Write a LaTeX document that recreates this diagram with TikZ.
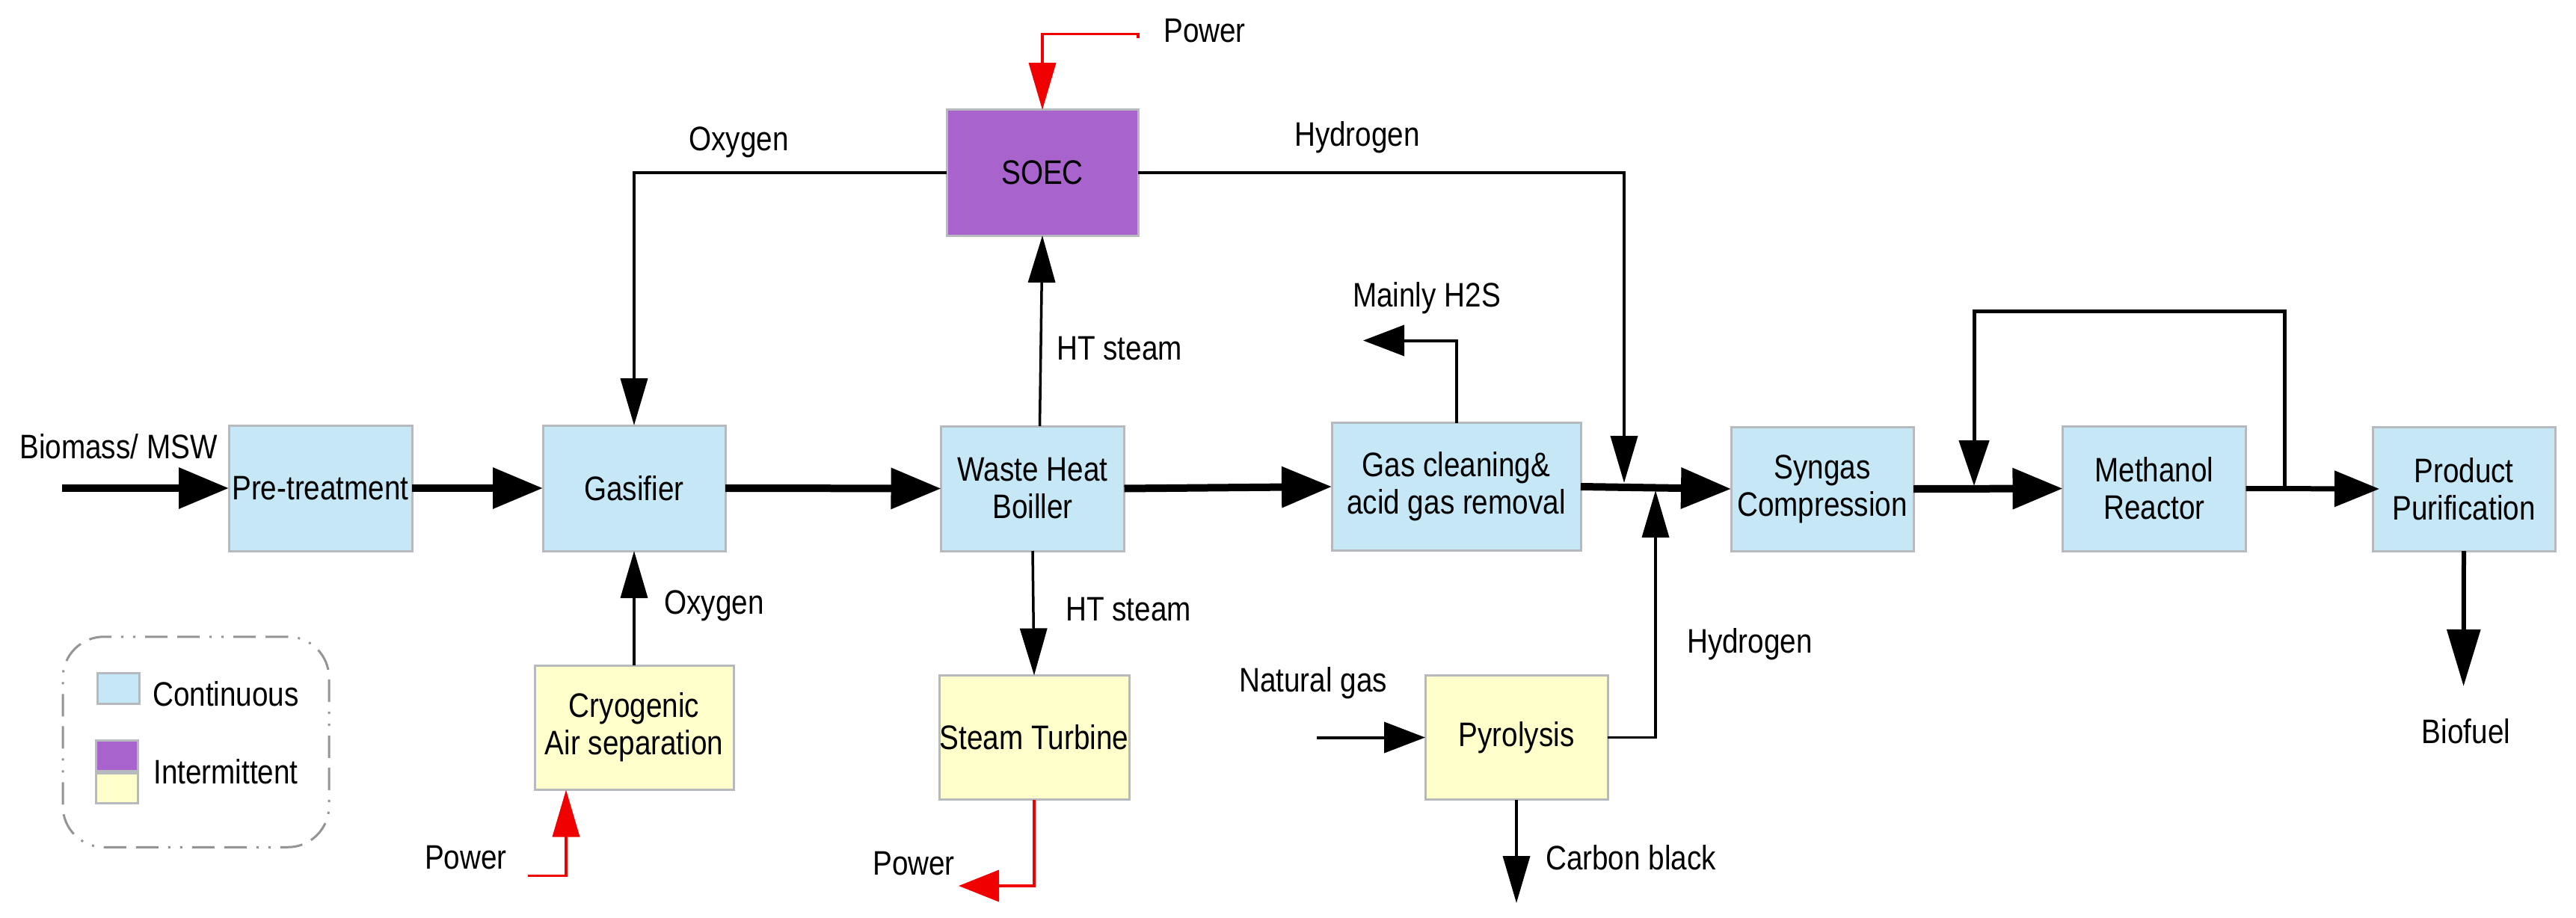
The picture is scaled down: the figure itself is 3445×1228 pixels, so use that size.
\documentclass[tikz,border=0pt]{standalone}
\usepackage{fontspec}
\setmainfont{Liberation Sans}[FakeStretch=0.85]
\usetikzlibrary{arrows.meta}
\definecolor{cblue}{HTML}{C5E7F6}
\definecolor{cpurple}{HTML}{A864CC}
\definecolor{cyellow}{HTML}{FFFFCC}
\definecolor{cedge}{HTML}{B6BABE}
\definecolor{cred}{HTML}{F00000}
\tikzset{
  x=1pt,y=-1pt,
  every node/.style={inner sep=0pt,outer sep=0pt,font=\fontsize{45.5}{50}\selectfont,text=black},
  box/.style={draw=cedge,line width=3pt,align=center},
  cont/.style={box,fill=cblue},
  pur/.style={box,fill=cpurple},
  yel/.style={box,fill=cyellow},
  lab/.style={align=center},
  thinflow/.style={line width=3.5pt,draw=black,-{Triangle[length=63pt,width=36pt]}},
  mainflow/.style={line width=10pt,draw=black,-{Triangle[length=67pt,width=53pt]}},
  midflow/.style={line width=7pt,draw=black,-{Triangle[length=60pt,width=47pt]}},
  sideflow/.style={line width=4pt,draw=black,-{Triangle[length=55pt,width=41pt]}},
  powerflow/.style={line width=3.5pt,draw=cred,-{Triangle[length=63pt,width=36pt]}},
  powerout/.style={line width=3.5pt,draw=cred,-{Triangle[length=54pt,width=42pt]}},
  legendframe/.style={draw=black!42,line width=3pt,rounded corners=55pt,
    dash pattern=on 30pt off 13pt on 30pt off 13pt on 3pt off 13pt on 3pt off 13pt}
}
\begin{document}
\begin{tikzpicture}
\useasboundingbox (0,0) rectangle (3445,1228);
% process boxes
\node[cont,minimum width=245pt,minimum height=168pt] (pre) at (428.5,653) {Pre-treatment};
\node[cont,minimum width=244pt,minimum height=168pt] (gas) at (848,653) {Gasifier};
\node[cont,minimum width=245pt,minimum height=167pt] (whb) at (1381,653.5) {Waste Heat\\Boiller};
\node[cont,minimum width=333pt,minimum height=171pt] (gc) at (1947.5,651) {Gas cleaning\&\\acid gas removal};
\node[cont,minimum width=244pt,minimum height=166pt] (syn) at (2437,654) {Syngas\\Compression};
\node[cont,minimum width=245pt,minimum height=167pt] (met) at (2881,653.5) {Methanol\\Reactor};
\node[cont,minimum width=244pt,minimum height=166pt] (pur) at (3295,654) {Product\\Purification};
\node[pur,minimum width=256pt,minimum height=168pt] (soec) at (1394,231) {SOEC};
\node[yel,minimum width=266pt,minimum height=166pt] (cryo) at (848,973) {Cryogenic\\Air separation};
\node[yel,minimum width=254pt,minimum height=166pt] (st) at (1383,986.5) {Steam Turbine};
\node[yel,minimum width=244pt,minimum height=166pt] (pyr) at (2028,986.5) {Pyrolysis};
% free ends and junctions
\coordinate (bioStart) at (83,653);
\coordinate (pTopEnd) at (1522,51);
\coordinate (pTopCorner) at (1522,45.5);
\coordinate (pCryoStart) at (705.5,1171.5);
\coordinate (pCryoIn) at (757,1056.5);
\coordinate (pOutEnd) at (1282,1185);
\coordinate (whbTop) at (1390.5,570);
\coordinate (h2sEnd) at (1823,455.5);
\coordinate (hydDown) at (2172,646);
\coordinate (hydUp) at (2214,656);
\coordinate (ngStart) at (1761,986.5);
\coordinate (carbonEnd) at (2028,1208);
\coordinate (loopStart) at (3055.5,653);
\coordinate (loopTop) at (3055.5,416);
\coordinate (loopEnd) at (2640,650);
\coordinate (fuelEnd) at (3294.6,918);
% thick main flow
\draw[mainflow] (bioStart) -- (pre.west);
\draw[mainflow] (pre.east) -- (gas.west);
\draw[mainflow] (gas.east) -- (whb.west);
\draw[mainflow] (whb.east) -- (gc.west);
\draw[mainflow] (gc.east) -- (syn.west);
\draw[mainflow] (syn.east) -- (met.west);
\draw[midflow] (met.east) -- ([xshift=9pt]pur.west);
% thin flows
\draw[thinflow,line width=4pt] (soec.west) -| (gas.north);
\draw[thinflow,line width=4pt] (soec.east) -| (hydDown);
\draw[thinflow] (cryo.north) -- (gas.south);
\draw[thinflow] (whbTop) -- (soec.south);
\draw[thinflow] (whb.south) -- (st.north);
\draw[sideflow] (gc.north) |- (h2sEnd);
\draw[thinflow] (pyr.east) -| (hydUp);
\draw[sideflow] (ngStart) -- (pyr.west);
\draw[thinflow] (pyr.south) -- (carbonEnd);
\draw[line width=5pt,draw=black,-{Triangle[length=61pt,width=40pt]},line join=miter] (loopStart) -- (loopTop) -| (loopEnd);
\draw[line width=6pt,draw=black,-{Triangle[length=76pt,width=44pt]}] (pur.south) -- (fuelEnd);
% power
\draw[powerflow] (pTopEnd) -- (pTopCorner) -| (soec.north);
\draw[powerflow] (pCryoStart) -| (pCryoIn);
\draw[powerout] (st.south) |- (pOutEnd);
% labels
\node[lab] (lBio) at (158.5,597) {Biomass/ MSW};
\node[lab] (lOx1) at (988,190) {Oxygen};
\node[lab] (lOx2) at (955,810) {Oxygen};
\node[lab] (lHy1) at (1815,184) {Hydrogen};
\node[lab] (lHy2) at (2340,862) {Hydrogen};
\node[lab] (lP1) at (1611,41.5) {Power};
\node[lab] (lP2) at (623,1147) {Power};
\node[lab] (lP3) at (1222,1155) {Power};
\node[lab] (lHT1) at (1497,466) {HT steam};
\node[lab] (lHT2) at (1509,815) {HT steam};
\node[lab] (lH2S) at (1908,398.6) {Mainly H2S};
\node[lab] (lNG) at (1756,913.6) {Natural gas};
\node[lab] (lCB) at (2181,1147) {Carbon black};
\node[lab] (lFuel) at (3298,978) {Biofuel};
% legend
\node[legendframe,draw,minimum width=356pt,minimum height=281.5pt] (legend) at (262,992.5) {};
\node[cont,minimum width=56pt,minimum height=41pt] (legC) at (158,921) {};
\node[pur,minimum width=56pt,minimum height=41pt] (legP) at (156,1010.5) {};
\node[yel,minimum width=56pt,minimum height=40pt] (legY) at (156,1054) {};
\node[lab] (legCt) at (302,928) {Continuous};
\node[lab] (legIt) at (302,1032) {Intermittent};
\end{tikzpicture}
\end{document}
